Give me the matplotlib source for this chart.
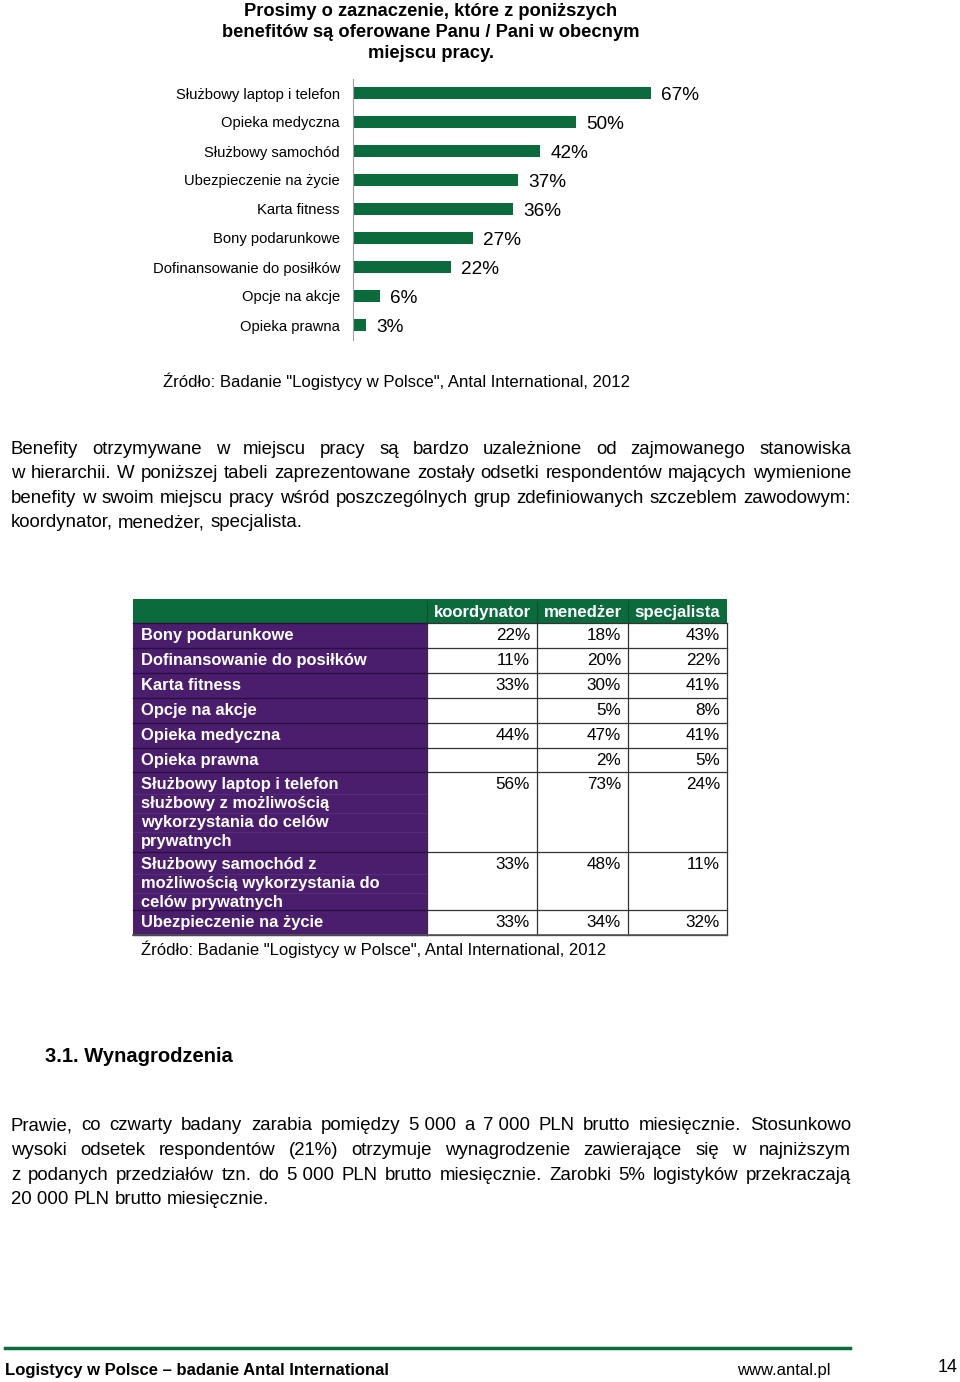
import matplotlib
matplotlib.use('Agg')
import matplotlib.pyplot as plt
from matplotlib.patches import Rectangle

plt.rcParams['font.family'] = ['Liberation Sans', 'DejaVu Sans']

W, H = 960, 1382
GREEN = '#0b6b3c'
PURPLE = '#4a1e6d'

# ---------------- data ----------------
title_lines = ["Prosimy o zaznaczenie, które z poniższych",
               "benefitów są oferowane Panu / Pani w obecnym",
               "miejscu pracy."]
categories = ["Służbowy laptop i telefon", "Opieka medyczna", "Służbowy samochód",
              "Ubezpieczenie na życie", "Karta fitness", "Bony podarunkowe",
              "Dofinansowanie do posiłków", "Opcje na akcje", "Opieka prawna"]
values = [67, 50, 42, 37, 36, 27, 22, 6, 3]
source_text = 'Źródło: Badanie "Logistycy w Polsce", Antal International, 2012'

para1 = ["Benefity otrzymywane w miejscu pracy są bardzo uzależnione od zajmowanego stanowiska",
         "w hierarchii. W poniższej tabeli zaprezentowane zostały odsetki respondentów mających wymienione",
         "benefity w swoim miejscu pracy wśród poszczególnych grup zdefiniowanych szczeblem zawodowym:",
         "koordynator, menedżer, specjalista."]

col_headers = ["koordynator", "menedżer", "specjalista"]
row_labels = ["Bony podarunkowe", "Dofinansowanie do posiłków", "Karta fitness",
              "Opcje na akcje", "Opieka medyczna", "Opieka prawna",
              "Służbowy laptop i telefon\nsłużbowy z możliwością\nwykorzystania do celów\nprywatnych",
              "Służbowy samochód z\nmożliwością wykorzystania do\ncelów prywatnych",
              "Ubezpieczenie na życie"]
koordynator = [22, 11, 33, None, 44, None, 56, 33, 33]
menedzer = [18, 20, 30, 5, 47, 2, 73, 48, 34]
specjalista = [43, 22, 41, 8, 41, 5, 24, 11, 32]

section_title = "3.1. Wynagrodzenia"
para2 = ["Prawie, co czwarty badany zarabia pomiędzy 5\u00a0000 a 7\u00a0000 PLN brutto miesięcznie. Stosunkowo",
         "wysoki odsetek respondentów (21%) otrzymuje wynagrodzenie zawierające się w najniższym",
         "z podanych przedziałów tzn. do 5\u00a0000 PLN brutto miesięcznie. Zarobki 5% logistyków przekraczają",
         "20\u00a0000 PLN brutto miesięcznie."]

footer_left = "Logistycy w Polsce – badanie Antal International"
footer_url = "www.antal.pl"
page_no = "14"

# ---------------- figure ----------------
fig = plt.figure(figsize=(W / 100, H / 100), dpi=100)
fig.patch.set_facecolor('white')
bg = fig.add_axes([0, 0, 1, 1])
bg.set_xlim(0, W)
bg.set_ylim(H, 0)
bg.axis('off')
renderer = fig.canvas.get_renderer()

# title
for i, line in enumerate(title_lines):
    bg.text(431, 11 + i * 21, line, fontsize=13.2, fontweight='bold', ha='center', va='center')

# bar chart
ax = fig.add_axes([353 / W, 1 - 339.5 / H, 445 / W, 261 / H])
ypos = list(range(len(values)))
ax.barh(ypos, values, height=0.38, color=GREEN)
ax.set_ylim(len(values) - 0.5, -0.5)
ax.set_xlim(0, 100)
ax.set_yticks(ypos)
ax.set_yticklabels(categories, fontsize=10.6)
ax.tick_params(axis='y', length=0, pad=9.4)
ax.set_xticks([])
ax.patch.set_alpha(0)
for s in ['top', 'right', 'bottom']:
    ax.spines[s].set_visible(False)
ax.spines['left'].set_color('#a0a0a0')
for i, v in enumerate(values):
    ax.text(v + 2.3, i + 0.1, f"{v}%", va='center', ha='left', fontsize=13.7)

bg.text(163, 381, source_text, fontsize=12.05, ha='left', va='center')


def text_width(s, fs, weight='normal'):
    t = bg.text(0, 0, s, fontsize=fs, fontweight=weight)
    w = t.get_window_extent(renderer).width
    t.remove()
    return w


def paragraph(lines, x0, x1, y0, dy, fs):
    space = text_width("a a", fs) - text_width("aa", fs)
    for li, line in enumerate(lines):
        y = y0 + li * dy
        words = line.split(' ')
        widths = [text_width(w, fs) for w in words]
        last = li == len(lines) - 1
        if not last and len(words) > 1:
            gap = (x1 - x0 - sum(widths)) / (len(words) - 1)
        else:
            gap = space
        x = x0
        for w, wd in zip(words, widths):
            bg.text(x, y, w, fontsize=fs, ha='left', va='center')
            x += wd + gap


paragraph(para1, 11, 851, 449, 24.5, 13.4)

# table
col_edges = [133, 427, 537, 628, 727]
head_top, head_bot = 599, 623
row_edges = [623, 648, 673, 698, 723, 748, 772, 852, 910, 935]
bg.add_patch(Rectangle((col_edges[0], head_top), col_edges[-1] - col_edges[0], head_bot - head_top,
                       facecolor=GREEN, edgecolor='none'))
bg.add_patch(Rectangle((col_edges[0], row_edges[0]), col_edges[1] - col_edges[0], row_edges[-1] - row_edges[0],
                       facecolor=PURPLE, edgecolor='none'))
for j, hdr in enumerate(col_headers):
    cx = (col_edges[j + 1] + col_edges[j + 2]) / 2
    bg.text(cx, 612, hdr, fontsize=12.1, fontweight='bold', color='white', ha='center', va='center')
    bg.plot([col_edges[j + 1]] * 2, [head_top + 2, head_bot], color='#0a4f2c', lw=0.8)
for y in row_edges:
    bg.plot([col_edges[1], col_edges[-1]], [y, y], color='#333333', lw=0.9)
    bg.plot([col_edges[0], col_edges[1]], [y, y], color='#2a0f42', lw=1.0)
for x in col_edges[1:]:
    bg.plot([x, x], [row_edges[0], row_edges[-1]], color='#333333', lw=0.9)
bg.plot([col_edges[0], col_edges[-1]], [row_edges[-1], row_edges[-1]], color='#555555', lw=1.2)

line_dy = 19.3
series = [koordynator, menedzer, specjalista]
for r, label in enumerate(row_labels):
    top = row_edges[r]
    for k, part in enumerate(label.split('\n')):
        yk = top + 12 + k * line_dy
        bg.text(141, yk, part, fontsize=11.9, fontweight='bold', color='white', ha='left', va='center')
        if k > 0:
            bg.plot([col_edges[0], col_edges[1]], [yk - line_dy / 2, yk - line_dy / 2],
                    color='#55307a', lw=0.6)
    for j, s in enumerate(series):
        v = s[r]
        if v is not None:
            bg.text(col_edges[j + 2] - 7, top + 12, f"{v}%", fontsize=12.3, ha='right', va='center')

bg.text(141, 949, source_text, fontsize=12.0, ha='left', va='center')

# section
bg.text(45, 1057, section_title, fontsize=14.5, fontweight='bold', ha='left', va='center')
paragraph(para2, 11, 851, 1126, 24.5, 13.4)

# footer
bg.plot([5, 850], [1348, 1348], color=GREEN, lw=2.5)
bg.text(5, 1370, footer_left, fontsize=12, fontweight='bold', ha='left', va='center')
bg.text(737, 1370, footer_url, fontsize=12, ha='left', va='center')
bg.text(958, 1368, page_no, fontsize=13, ha='right', va='center')

fig.savefig('out.png', dpi=100, facecolor='white')
